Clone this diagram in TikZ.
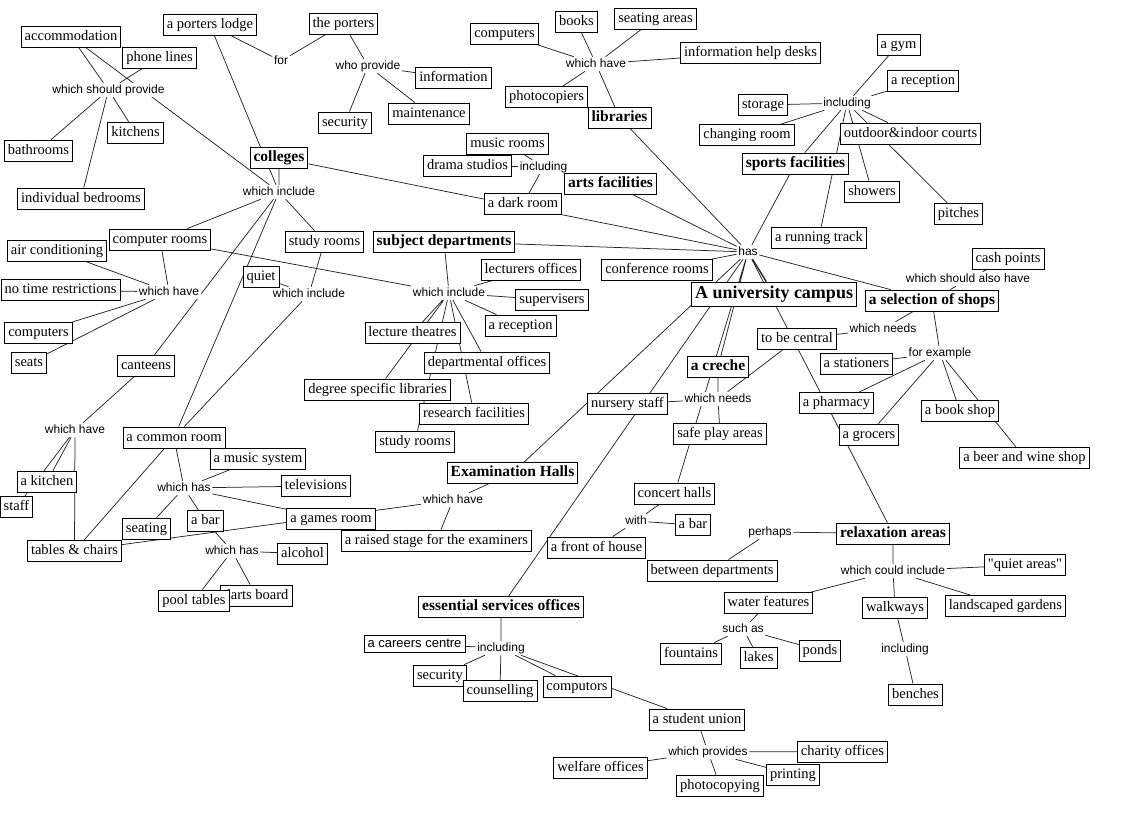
\documentclass[tikz,border=0pt]{standalone}
\usepackage{fontspec}
\setmainfont{Liberation Serif}
\setsansfont{Liberation Sans}
\newfontfamily\qfont{Liberation Serif}[Ligatures=TeXOff]
\pgfdeclarelayer{back}
\pgfdeclarelayer{bg}
\pgfsetlayers{back,bg,main}
\tikzset{
 cbox/.style={draw=black, line width=0.8pt, fill=white, font=\fontsize{14.5}{16}\selectfont, inner xsep=3.5pt, inner ysep=4pt, text height=10pt, text depth=3pt},
 bbox/.style={cbox, font=\fontsize{15.5}{17}\selectfont\bfseries},
 sbox/.style={cbox, font=\sffamily\fontsize{13}{15}\selectfont, text height=9pt, text depth=2.5pt, inner ysep=3pt},
 lk/.style={fill=white, inner sep=1.5pt, font=\sffamily\fontsize{12}{14}\selectfont, text height=8.6pt, text depth=2.5pt},
 cn/.style={draw=black!85, line width=0.75pt},
}
\begin{document}
\begin{tikzpicture}[x=1pt,y=-1pt]
\begin{pgfonlayer}{back}
\fill[white] (0,0) rectangle (1134,838);
\end{pgfonlayer}
\useasboundingbox (0,0) rectangle (1134,838);
% linking phrases
\node[lk] (L1) at (108.5,90) {which should provide};
\node[lk] (L2) at (281,61) {for};
\node[lk] (L3) at (368,66) {who provide};
\node[lk] (L4) at (279,192) {which include};
\node[lk] (L5) at (169,292) {which have};
\node[lk] (L6) at (309,294) {which include};
\node[lk] (L7) at (75,430) {which have};
\node[lk] (L8) at (184,488) {which has};
\node[lk] (L9) at (232,551) {which has};
\node[lk] (L10) at (596,64) {which have};
\node[lk] (L11) at (543.5,167) {including};
\node[lk] (L12) at (847,103) {including};
\node[lk] (has) at (748,252) {has};
\node[lk] (L14) at (449,293) {which include};
\node[lk] (L15) at (968,279) {which should also have};
\node[lk] (L16) at (883,329) {which needs};
\node[lk] (L17) at (940,353) {for example};
\node[lk] (L18) at (718,399) {which needs};
\node[lk] (L19) at (453,500) {which have};
\node[lk] (L20) at (636,521) {with};
\node[lk] (L21) at (770,532) {perhaps};
\node[lk] (L22) at (893,571) {which could include};
\node[lk] (L23) at (743,629) {such as};
\node[lk] (L24) at (905,649) {including};
\node[lk] (L25) at (501,648) {including};
\node[lk] (L26) at (708,752) {which provides};
% concepts
\node[cbox] (accom) at (71,36.5) {accommodation};
\node[cbox] (phone) at (159.5,57.5) {phone lines};
\node[cbox] (kitch) at (135.5,132.5) {kitchens};
\node[cbox] (bath) at (38.5,150.5) {bathrooms};
\node[cbox] (bed) at (81,198.5) {individual bedrooms};
\node[cbox] (lodge) at (210,25) {a porters lodge};
\node[cbox] (porters) at (343.5,24) {the porters};
\node[cbox] (info) at (453.5,78) {information};
\node[cbox] (secA) at (345,122.5) {security};
\node[cbox] (maint) at (429,113.5) {maintenance};
\node[bbox] (coll) at (279,158) {colleges};
\node[cbox] (comprm) at (160,239.5) {computer rooms};
\node[cbox] (aircon) at (57,251) {air conditioning};
\node[cbox] (studyA) at (324.5,241.5) {study rooms};
\node[cbox] (notime) at (60.5,290) {no time restrictions};
\node[cbox] (quiet) at (261,277) {quiet};
\node[cbox] (compA) at (38.5,332.5) {computers};
\node[cbox] (seats) at (29,363) {seats};
\node[cbox] (cant) at (146,366) {canteens};
\node[cbox] (common) at (174,437.5) {a common room};
\node[cbox] (kitchen) at (47,481.5) {a kitchen};
\node[cbox] (staff) at (16.5,507) {staff};
\node[cbox] (music) at (258,458.5) {a music system};
\node[cbox] (tv) at (316,486) {televisions};
\node[cbox] (seating) at (146.5,528.5) {seating};
\node[cbox] (barA) at (205.5,521) {a bar};
\node[cbox] (tables) at (74.5,551) {tables \& chairs};
\node[cbox] (games) at (331,518.5) {a games room};
\node[cbox] (alcohol) at (302.5,553.5) {alcohol};
\node[cbox] (darts) at (256,595.5) {darts board};
\node[cbox] (pool) at (194,600.5) {pool tables};
\node[cbox] (compB) at (504.5,34) {computers};
\node[cbox] (books) at (576.5,22) {books};
\node[cbox] (seatar) at (655.5,18.5) {seating areas};
\node[cbox] (desks) at (750.5,53) {information help desks};
\node[cbox] (photoc) at (546.5,97) {photocopiers};
\node[bbox] (lib) at (619.5,117.5) {libraries};
\node[cbox] (musicrm) at (507.5,144) {music rooms};
\node[cbox] (drama) at (467.5,165.5) {drama studios};
\node[cbox] (dark) at (523,204) {a dark room};
\node[bbox] (arts) at (610.5,183.5) {arts facilities};
\node[bbox] (subj) at (444,241.5) {subject departments};
\node[cbox] (storage) at (763,105) {storage};
\node[cbox] (changing) at (747,135) {changing room};
\node[bbox] (sports) at (795.5,163.5) {sports facilities};
\node[cbox] (gym) at (898.5,44.5) {a gym};
\node[cbox] (recA) at (923,80.5) {a reception};
\node[cbox] (courts) at (910.5,133.5) {outdoor\&indoor courts};
\node[cbox] (showers) at (872,191.5) {showers};
\node[cbox] (pitches) at (958.5,214) {pitches};
\node[cbox] (track) at (819,237.5) {a running track};
\node[cbox] (conf) at (657,270) {conference rooms};
\node[cbox] (lect) at (531,269.5) {lecturers offices};
\node[cbox] (superv) at (552,300) {supervisers};
\node[cbox] (recB) at (520.5,325.5) {a reception};
\node[cbox] (theatres) at (412.5,333) {lecture theatres};
\node[cbox] (deptoff) at (487,362.5) {departmental offices};
\node[cbox] (degree) at (377.5,389.5) {degree specific libraries};
\node[cbox] (research) at (474,413.5) {research facilities};
\node[cbox] (studyB) at (415,441.5) {study rooms};
\node[cbox, font=\fontsize{18}{20}\selectfont\bfseries, text height=12pt, text depth=4pt] (campus) at (774,294) {A university campus};
\node[cbox] (cash) at (1008,259) {cash points};
\node[bbox] (shops) at (932,300.5) {a selection of shops};
\node[cbox] (central) at (797,339) {to be central};
\node[cbox] (station) at (856.5,363.5) {a stationers};
\node[bbox] (creche) at (718,367) {a creche};
\node[cbox] (nursery) at (627.5,404) {nursery staff};
\node[cbox] (pharm) at (836.5,403) {a pharmacy};
\node[cbox] (bookshop) at (960,411) {a book shop};
\node[cbox] (safe) at (720,434) {safe play areas};
\node[cbox] (grocer) at (869,434.5) {a grocers};
\node[cbox] (beer) at (1024.5,457.5) {a beer and wine shop};
\node[bbox] (exam) at (512.5,473) {Examination Halls};
\node[cbox] (concert) at (674.5,493.5) {concert halls};
\node[cbox] (barB) at (693,525) {a bar};
\node[cbox] (stage) at (436.5,540.5) {a raised stage for the examiners};
\node[bbox] (relax) at (893,533.5) {relaxation areas};
\node[cbox] (front) at (596.5,547.5) {a front of house};
\node[cbox] (between) at (712,570.5) {between departments};
\node[cbox, font=\qfont\fontsize{14.5}{16}\selectfont] (quietar) at (1025,565) {"quiet areas"};
\node[cbox] (water) at (768.5,603) {water features};
\node[cbox] (walk) at (895,607.5) {walkways};
\node[cbox] (gardens) at (1005.5,606) {landscaped gardens};
\node[bbox] (ess) at (501,607) {essential services offices};
\node[sbox] (careers) at (414.5,644) {a careers centre};
\node[cbox] (fount) at (691,653.5) {fountains};
\node[cbox] (lakes) at (758.5,657.5) {lakes};
\node[cbox] (ponds) at (820,650.5) {ponds};
\node[cbox] (secB) at (440,675.5) {security};
\node[cbox] (counsel) at (500,691) {counselling};
\node[cbox] (computors) at (577,686.5) {computors};
\node[cbox] (benches) at (915.5,694.5) {benches};
\node[cbox] (union) at (697,719.5) {a student union};
\node[cbox] (charity) at (842.5,751.5) {charity offices};
\node[cbox] (welfare) at (600.5,767.5) {welfare offices};
\node[cbox] (printing) at (793,774.5) {printing};
\node[cbox] (photocop) at (720,785.5) {photocopying};
% connectors
\begin{pgfonlayer}{bg}
\draw[cn] (accom)--(L1) (phone)--(L1) (L1)--(bath) (L1)--(bed) (L1)--(kitch)
 (accom)--(L4) (lodge)--(L4) (lodge)--(L2) (L2)--(porters) (porters)--(L3)
 (L3)--(info) (L3)--(secA) (L3)--(maint)
 (coll)--(L4) (L4)--(comprm) (L4)--(cant) (L4)--(common) (L4)--(studyA)
 (comprm)--(L5) (L5)--(aircon) (L5)--(notime) (L5)--(compA) (L5)--(seats)
 (comprm)--(L14)
 (studyA)--(L6) (L6)--(quiet) (L6)--(common)
 (cant)--(L7) (L7)--(kitchen) (L7)--(staff) (L7)--(tables)
 (common)--(tables) (common)--(L8) (L8)--(music) (L8)--(tv) (L8)--(games) (L8)--(seating) (L8)--(barA)
 (barA)--(L9) (L9)--(alcohol) (L9)--(pool) (L9)--(darts)
 (compB)--(L10) (books)--(L10) (seatar)--(L10) (L10)--(desks) (L10)--(photoc) (lib)--(L10)
 (lib)--(has)
 (musicrm)--(L11) (L11)--(drama) (L11)--(dark) (arts)--(L11)
 (arts)--(has) (coll)--(has) (subj)--(has) (has)--(conf) (sports)--(has)
 (storage)--(L12) (L12)--(changing) (L12)--(sports) (L12)--(track) (L12)--(gym)
 (L12)--(recA) (L12)--(courts) (L12)--(showers) (L12)--(pitches)
 (has)--(shops) (shops)--(L15) (L15)--(cash)
 (shops)--(L16) (L16)--(central)
 (shops)--(L17) (L17)--(station) (L17)--(pharm) (L17)--(grocer) (L17)--(bookshop) (L17)--(beer)
 (has)--(creche) (has)--(concert) (has)--(exam) (has)--(ess) (has)--(relax)
 (creche)--(L18) (L18)--(nursery) (L18)--(safe) (L18)--(central)
 (subj)--(L14) (L14)--(lect) (L14)--(superv) (L14)--(recB) (L14)--(theatres)
 (L14)--(degree) (L14)--(studyB) (L14)--(research) (L14)--(deptoff)
 (exam)--(L19) (L19)--(stage) (L19)--(tables)
 (concert)--(L20) (L20)--(barB) (L20)--(front)
 (relax)--(L21) (L21)--(between)
 (relax)--(L22) (L22)--(quietar) (L22)--(gardens) (L22)--(walk) (L22)--(water)
 (water)--(L23) (L23)--(fount) (L23)--(lakes) (L23)--(ponds)
 (walk)--(L24) (L24)--(benches)
 (ess)--(L25) (L25)--(careers) (L25)--(secB) (L25)--(counsel) (L25)--(computors) (L25)--(union)
 (union)--(L26) (L26)--(charity) (L26)--(printing) (L26)--(photocop) (L26)--(welfare);
\draw[cn, line width=1.4pt] (campus)--(has);
\end{pgfonlayer}
\end{tikzpicture}
\end{document}
